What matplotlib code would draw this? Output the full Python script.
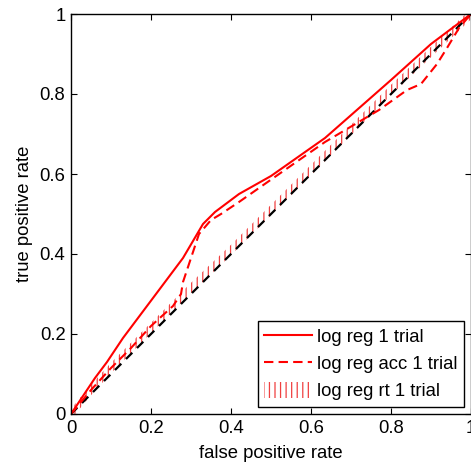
import matplotlib
matplotlib.use("Agg")
import matplotlib.pyplot as plt
import numpy as np

plt.rcParams['font.family'] = ['Liberation Sans', 'DejaVu Sans']
plt.rcParams['hatch.linewidth'] = 0.9

# ROC curves
fpr_lr = [0, 0.02, 0.06, 0.09, 0.13, 0.22, 0.28, 0.33, 0.345, 0.36, 0.42, 0.5, 0.635, 0.8, 0.9, 1]
tpr_lr = [0, 0.03, 0.09, 0.13, 0.19, 0.31, 0.39, 0.475, 0.49, 0.505, 0.55, 0.595, 0.69, 0.835, 0.925, 1]

fpr_acc = [0, 0.05, 0.1, 0.15, 0.2, 0.255, 0.275, 0.28, 0.32, 0.35, 0.375, 0.42, 0.47, 0.635, 0.77,
           0.805, 0.84, 0.875, 0.915, 0.94, 0.97, 1]
tpr_acc = [0, 0.06, 0.115, 0.165, 0.22, 0.27, 0.3, 0.33, 0.45, 0.485, 0.5, 0.53, 0.565, 0.68, 0.76,
           0.785, 0.81, 0.825, 0.875, 0.915, 0.965, 1]

fpr_rt = [0, 0.05, 0.1, 0.15, 0.2, 0.3, 0.4, 0.5, 0.6, 0.7, 0.8, 0.9, 1]
tpr_rt = [0, 0.06, 0.115, 0.165, 0.215, 0.315, 0.41, 0.51, 0.61, 0.71, 0.81, 0.905, 1]

ticks = [0, 0.2, 0.4, 0.6, 0.8, 1]
tick_labels = ['0', '0.2', '0.4', '0.6', '0.8', '1']

fs = 13.3

fig = plt.figure(figsize=(4.71, 4.63), dpi=100)
ax = fig.add_axes([71 / 471, 49 / 463, 400 / 471, 400 / 463])

rt = np.array(tpr_rt)
ax.fill_between(fpr_rt, rt - 0.013, rt + 0.013, facecolor='none', edgecolor='#f04040',
                hatch='|||', linewidth=0, label='log reg rt 1 trial')
ax.plot([0, 1], [0, 1], 'k--', lw=1.6, dashes=(4, 3))
ax.plot(fpr_lr, tpr_lr, color='red', lw=1.5, label='log reg 1 trial')
ax.plot(fpr_acc, tpr_acc, color='red', lw=1.5, ls='--', dashes=(4.5, 2.5), label='log reg acc 1 trial')

ax.set_xlim(0, 1)
ax.set_ylim(0, 1)
ax.set_xticks(ticks)
ax.set_xticklabels(tick_labels)
ax.set_yticks(ticks)
ax.set_yticklabels(tick_labels)
ax.tick_params(direction='in', length=4, top=True, right=True, labelsize=fs, pad=4)
for s in ax.spines.values():
    s.set_linewidth(1)
ax.set_xlabel('false positive rate', fontsize=fs, labelpad=6)
ax.set_ylabel('true positive rate', fontsize=fs, labelpad=5)

h, l = ax.get_legend_handles_labels()
order = [1, 2, 0]
leg = ax.legend([h[i] for i in order], [l[i] for i in order], loc='lower right', fontsize=fs,
                fancybox=False, framealpha=1, edgecolor='black', handlelength=2.6,
                handleheight=1.0, handletextpad=0.25, labelspacing=0.45,
                borderaxespad=0.4, borderpad=0.35)
leg.get_frame().set_linewidth(1)

fig.savefig('out.png', dpi=100)
